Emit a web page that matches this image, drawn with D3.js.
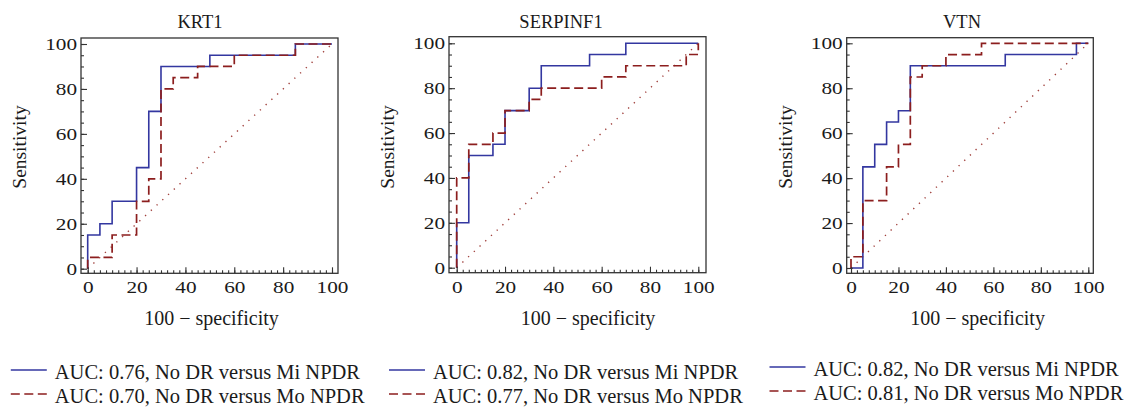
<!DOCTYPE html>
<html>
<head>
<meta charset="utf-8">
<script src="https://cdn.jsdelivr.net/npm/d3@7"></script>
<style>
  html, body { margin: 0; padding: 0; background: #fff; }
  svg { display: block; }
</style>
</head>
<body>
<svg id="chart" width="1130" height="408"></svg>
<script>
// ---- data ----
const titles = ["KRT1", "SERPINF1", "VTN"];
const krt1Mi = [[0,0],[0,15],[5,20],[10,30],[20,45],[25,70],[30,90],[50,95],[85,100],[100,100]];
const krt1Mo = [[0,0],[0,5],[10,15],[20,30],[25,40],[30,80],[35,85],[45,90],[60,95],[85,100],[100,100]];
const serpMi = [[0,0],[0,20],[5,50],[15,55],[20,70],[30,80],[35,90],[55,95],[70,100],[100,100]];
const serpMo = [[0,0],[0,40],[5,55],[15,60],[20,70],[30,75],[35,80],[60,85],[70,90],[95,95],[100,100]];
const vtnMi  = [[0,0],[5,45],[10,55],[15,65],[20,70],[25,90],[65,95],[95,100],[100,100]];
const vtnMo  = [[0,0],[0,5],[5,30],[15,45],[20,55],[25,85],[30,90],[40,95],[55,100],[100,100]];
const diagonal = [[0,0],[100,100]];
const miSeries = [krt1Mi, serpMi, vtnMi];
const moSeries = [krt1Mo, serpMo, vtnMo];
const legendMi = ["AUC: 0.76, No DR versus Mi NPDR", "AUC: 0.82, No DR versus Mi NPDR", "AUC: 0.82, No DR versus Mi NPDR"];
const legendMo = ["AUC: 0.70, No DR versus Mo NPDR", "AUC: 0.77, No DR versus Mo NPDR", "AUC: 0.81, No DR versus Mo NPDR"];
const xTicks = [0, 20, 40, 60, 80, 100];
const yTicks = [0, 20, 40, 60, 80, 100];
const xMinor = d3.range(0, 100.01, 2.5);
const yMinor = d3.range(0, 100.01, 5);
const xLabel = "100 \u2212 specificity";
const yLabel = "Sensitivity";

// ---- layout ----
const layout = [
  {x0: 87.7, x100: 332,   y0: 268.7, y100: 44,   L: 81,    R: 338,    T: 38,   B: 273.3, titleX: 200, xlabX: 211.5, legX: 10.8,  legDy: 0},
  {x0: 456.7, x100: 698.3, y0: 267.7, y100: 43.3, L: 449,   R: 706,    T: 36.7, B: 272.7, titleX: 561, xlabX: 588,   legX: 389,   legDy: 0},
  {x0: 851,  x100: 1088.3, y0: 268,   y100: 43.3, L: 846.7, R: 1093.3, T: 37.7, B: 273.3, titleX: 962, xlabX: 977.6, legX: 769.5, legDy: -3}
];
const FONT = "'Liberation Serif', 'Times New Roman', serif";
const BLUE = "#3337a0";
const RED = "#8c1e1e";
const DOT = "#a0403c";
const FRAME = "#333";
const STRETCH = 1.25;

const svg = d3.select("#chart");

layout.forEach((p, i) => {
  const x = d3.scaleLinear().domain([0, 100]).range([p.x0, p.x100]);
  const y = d3.scaleLinear().domain([0, 100]).range([p.y0, p.y100]);
  const g = svg.append("g");

  // title
  g.append("text").attr("x", p.titleX).attr("y", 27.5)
    .attr("text-anchor", "middle").attr("font-family", FONT).attr("font-size", 18.5)
    .attr("fill", "#1a1a1a").text(titles[i]);

  const line = d3.line().x(d => x(d[0])).y(d => y(d[1]));
  const step = d3.line().x(d => x(d[0])).y(d => y(d[1])).curve(d3.curveStepAfter);

  // diagonal
  g.append("path").attr("d", line(diagonal)).attr("fill", "none")
    .attr("stroke", DOT).attr("stroke-width", 1.4).attr("stroke-dasharray", "1.3,6.5");
  // Mi (blue solid)
  g.append("path").attr("d", step(miSeries[i])).attr("fill", "none")
    .attr("stroke", BLUE).attr("stroke-width", 1.6);
  // Mo (red dashed)
  g.append("path").attr("d", step(moSeries[i])).attr("fill", "none")
    .attr("stroke", RED).attr("stroke-width", 1.7).attr("stroke-dasharray", "9,4.5");

  const styleAxis = sel => {
    sel.select(".domain").remove();
    sel.selectAll(".tick line").attr("stroke", FRAME).attr("stroke-width", 1.1);
    sel.attr("font-family", FONT).attr("font-size", 17);
    sel.selectAll(".tick text").attr("fill", "#1a1a1a");
  };
  // minor ticks
  g.append("g").attr("transform", `translate(0,${p.B})`)
    .call(d3.axisBottom(x).tickValues(xMinor).tickSize(-3).tickFormat(""))
    .call(styleAxis);
  g.append("g").attr("transform", `translate(${p.L},0)`)
    .call(d3.axisLeft(y).tickValues(yMinor).tickSize(-3).tickFormat(""))
    .call(styleAxis);
  // major ticks + labels
  g.append("g").attr("transform", `translate(0,${p.B})`)
    .call(d3.axisBottom(x).tickValues(xTicks).tickSize(-6).tickPadding(8).tickFormat(d3.format("d")))
    .call(styleAxis)
    .call(s => s.selectAll(".tick text").attr("transform", `scale(${STRETCH},1)`));
  g.append("g").attr("transform", `translate(${p.L},0)`)
    .call(d3.axisLeft(y).tickValues(yTicks).tickSize(-6).tickFormat(d3.format("d")))
    .call(styleAxis)
    .call(s => s.selectAll(".tick text").attr("x", -4 / STRETCH).attr("transform", `scale(${STRETCH},1)`));

  // frame
  g.append("rect").attr("x", p.L).attr("y", p.T)
    .attr("width", p.R - p.L).attr("height", p.B - p.T)
    .attr("fill", "none").attr("stroke", FRAME).attr("stroke-width", 1.3);

  // axis labels
  g.append("text").attr("x", p.xlabX).attr("y", 325)
    .attr("text-anchor", "middle").attr("font-family", FONT).attr("font-size", 20)
    .attr("fill", "#1a1a1a").text(xLabel);
  g.append("text").attr("transform", `translate(${p.L - 55},147) rotate(-90)`)
    .attr("text-anchor", "middle").attr("font-family", FONT).attr("font-size", 19.5)
    .attr("fill", "#1a1a1a").text(yLabel);

  // legend
  const rows = [
    {label: legendMi[i], color: BLUE, dash: null, y: 379},
    {label: legendMo[i], color: RED, dash: "9,4.5", y: 403}
  ];
  rows.forEach(r => {
    const ly = r.y + p.legDy;
    const ln = g.append("line").attr("x1", p.legX).attr("x2", p.legX + 36)
      .attr("y1", ly - 9).attr("y2", ly - 9)
      .attr("stroke", r.color).attr("stroke-width", 1.4);
    if (r.dash) ln.attr("stroke-dasharray", r.dash);
    g.append("text").attr("x", p.legX + 44).attr("y", ly)
      .attr("font-family", FONT).attr("font-size", 20.5).attr("fill", "#1a1a1a")
      .text(r.label);
  });
});
</script>
</body>
</html>
